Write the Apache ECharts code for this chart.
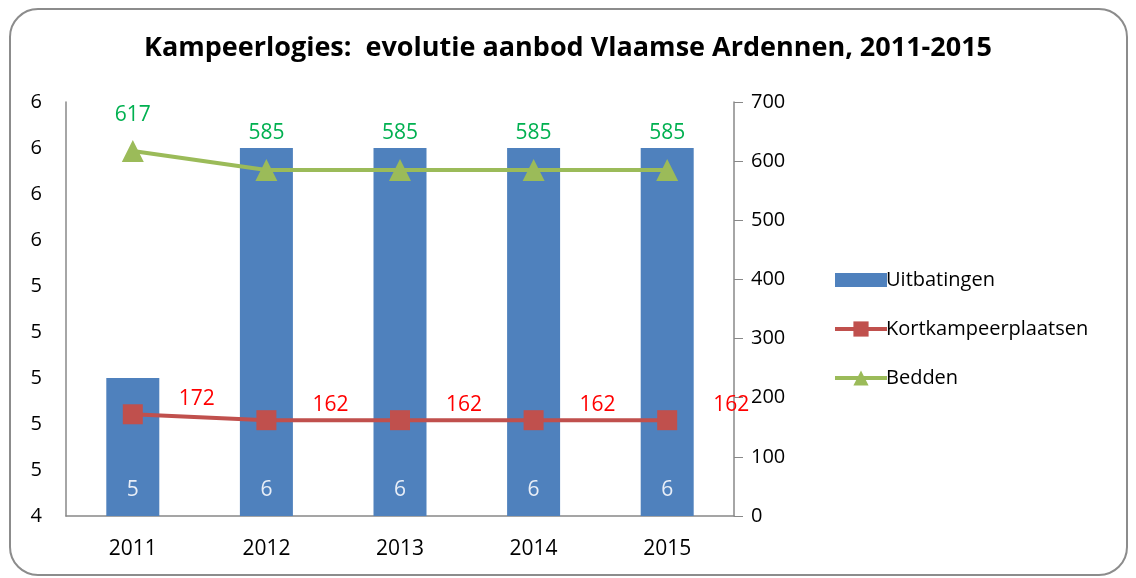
<!DOCTYPE html>
<html>
<head>
<meta charset="utf-8">
<script src="https://cdn.jsdelivr.net/npm/echarts@6/dist/echarts.min.js"></script>
<style>
  html, body { margin: 0; padding: 0; background: #fff; }
  #chart { width: 1136px; height: 578px; }
</style>
</head>
<body>
<div id="chart"></div>
<script>
var years = ['2011', '2012', '2013', '2014', '2015'];
var uitbatingen = [5, 6, 6, 6, 6];
var kortkampeerplaatsen = [172, 162, 162, 162, 162];
var bedden = [617, 585, 585, 585, 585];

var font = '"Open Sans", "Noto Sans", sans-serif';

var chart = echarts.init(document.getElementById('chart'));

// bar legend icon: 14px high block inside an 18px high box
var barIcon = 'path://M0,0L0.01,0L0.01,0.01Z M0,2L52,2L52,16L0,16Z M0,18L0.01,18L0.01,17.99Z';

var option = {
    animation: false,
    textStyle: { fontFamily: font },
    title: {
        text: 'Kampeerlogies:  evolutie aanbod Vlaamse Ardennen, 2011-2015',
        left: 'center',
        top: 30,
        textStyle: { fontSize: 27, fontWeight: 'bold', color: '#000', fontFamily: font }
    },
    // rounded border round the chart
    graphic: [{
        type: 'rect',
        shape: { x: 10, y: 9, width: 1117, height: 566, r: 28 },
        style: { fill: 'none', stroke: '#8c8c8c', lineWidth: 2 },
        silent: true
    }],
    legend: {
        orient: 'vertical',
        left: 828,
        top: 265,
        itemWidth: 52,
        itemHeight: 19,
        itemGap: 29,
        lineStyle: { width: 4 },
        textStyle: { fontSize: 20, color: '#000', fontFamily: font, padding: [0, 0, 0, -6] },
        data: [
            { name: 'Uitbatingen', icon: barIcon },
            { name: 'Kortkampeerplaatsen' },
            { name: 'Bedden' }
        ]
    },
    grid: { left: 66, right: 402, top: 102, bottom: 62 },
    xAxis: {
        type: 'category',
        data: years,
        axisLine: { lineStyle: { color: '#888', width: 1.5 } },
        axisTick: { show: false },
        axisLabel: { fontSize: 21, color: '#000', margin: 23 }
    },
    yAxis: [{
        type: 'value',
        min: 4.4,
        max: 6.2,
        interval: 0.2,
        splitLine: { show: false },
        axisLine: { show: true, lineStyle: { color: '#888', width: 1.5 } },
        axisTick: { show: false },
        axisLabel: {
            fontSize: 20, color: '#000', margin: 24,
            formatter: function (v) { return Math.round(v).toString(); }
        }
    }, {
        type: 'value',
        min: 0,
        max: 700,
        interval: 100,
        splitLine: { show: false },
        axisLine: { show: true, lineStyle: { color: '#888', width: 1.5 } },
        axisTick: { show: true, inside: false, length: 9, lineStyle: { color: '#888' } },
        axisLabel: { fontSize: 20, color: '#000', margin: 17 }
    }],
    series: [{
        name: 'Uitbatingen',
        type: 'bar',
        yAxisIndex: 0,
        data: uitbatingen,
        barWidth: 53,
        itemStyle: { color: '#4F81BD' },
        label: {
            show: true,
            position: 'insideBottom',
            distance: 15,
            color: '#E8EEF7',
            fontSize: 21
        }
    }, {
        name: 'Kortkampeerplaatsen',
        type: 'line',
        yAxisIndex: 1,
        data: kortkampeerplaatsen,
        symbol: 'rect',
        symbolSize: 20,
        lineStyle: { color: '#C0504D', width: 4 },
        itemStyle: { color: '#C0504D' },
        label: {
            show: true,
            position: 'top',
            offset: [64, 10],
            color: '#FF0000',
            fontSize: 21
        }
    }, {
        name: 'Bedden',
        type: 'line',
        yAxisIndex: 1,
        data: bedden,
        symbol: 'triangle',
        symbolSize: 22,
        lineStyle: { color: '#9BBB59', width: 4 },
        itemStyle: { color: '#9BBB59' },
        label: {
            show: true,
            position: 'top',
            offset: [0, -10],
            color: '#00B050',
            fontSize: 21
        }
    }]
};

chart.setOption(option);
</script>
</body>
</html>
